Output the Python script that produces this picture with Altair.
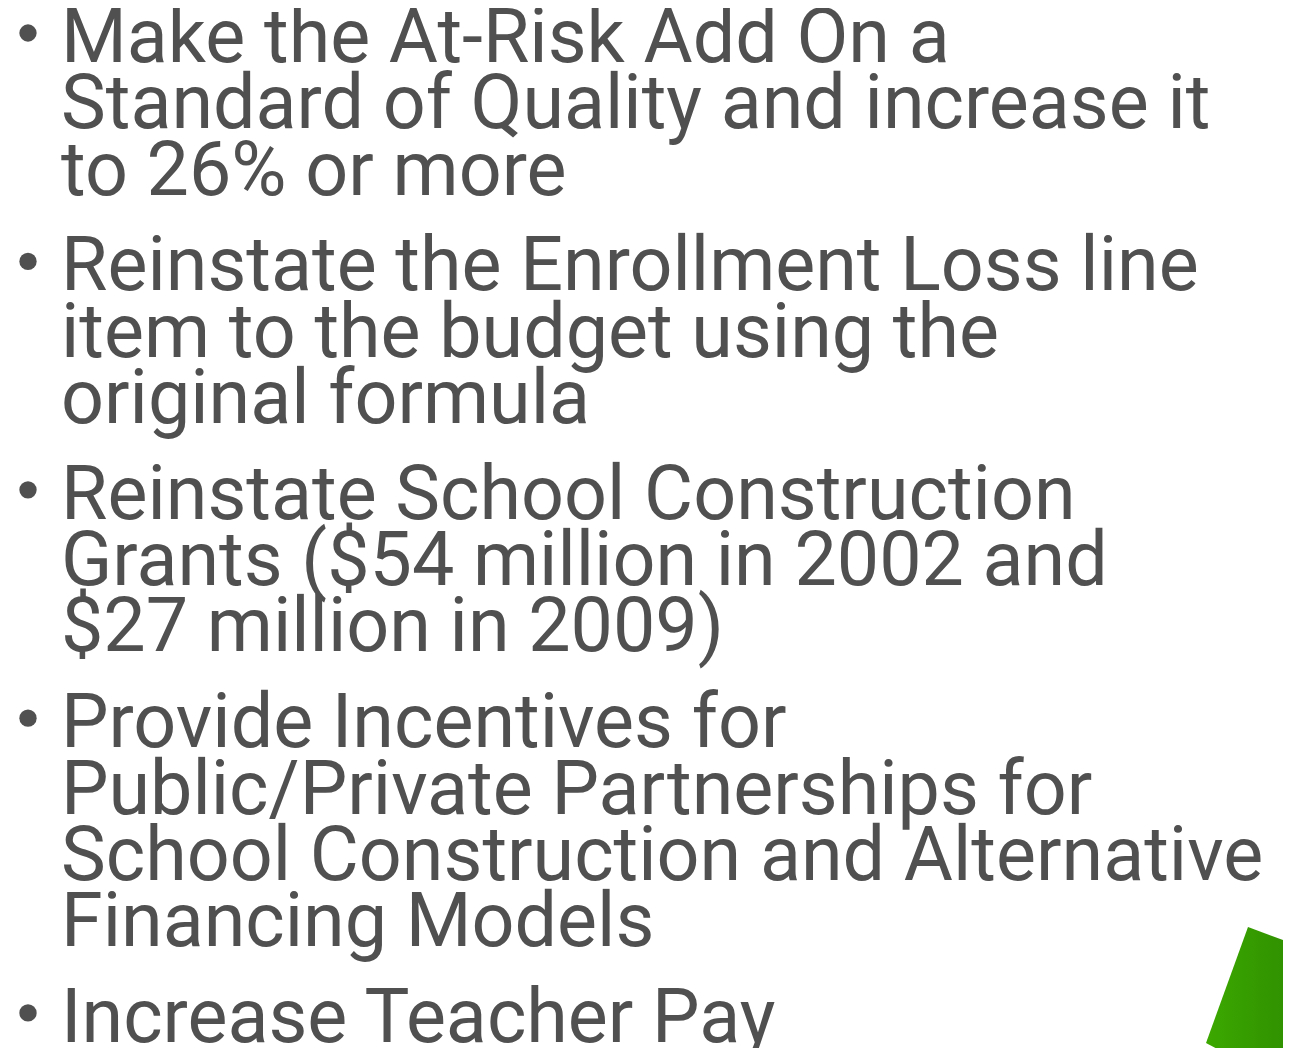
import altair as alt
import pandas as pd

bullets = [
    ["Make the At-Risk Add On a", "Standard of Quality and increase it", "to 26% or more"],
    ["Reinstate the Enrollment Loss line", "item to the budget using the", "original formula"],
    ["Reinstate School Construction", "Grants ($54 million in 2002 and", "$27 million in 2009)"],
    ["Provide Incentives for", "Public/Private Partnerships for",
     "School Construction and Alternative", "Financing Models"],
    ["Increase Teacher Pay"],
]

# decorative green shape (page pixel coords)
shape_x = [1206, 1223, 1248, 1291]
shape_top = [1043, 996, 927, 943]
shape_bot = [1043, 1052, 1052, 1052]

W, H = 1275, 1040
FIRST_BASE, LINE_STEP, GAP = 62, 66.3, 29.5
TEXT_X, BULLET_X = 61, 28

rows, dots = [], []
g = 0
for b, lines in enumerate(bullets):
    for i, t in enumerate(lines):
        y = FIRST_BASE + LINE_STEP * g + GAP * b
        rows.append({"x": TEXT_X, "y": y, "t": t})
        if i == 0:
            dots.append({"x": BULLET_X, "y": y - 29})
        g += 1

xs = alt.Scale(domain=[8, 8 + W], nice=False, zero=False)
ys = alt.Scale(domain=[8, 8 + H], reverse=True, nice=False, zero=False)

text = alt.Chart(pd.DataFrame(rows)).mark_text(
    align="left", baseline="alphabetic", font="Roboto", fontSize=75.4, color="#505050"
).encode(
    x=alt.X("x:Q", scale=xs, axis=None),
    y=alt.Y("y:Q", scale=ys, axis=None),
    text="t:N",
)

dot = alt.Chart(pd.DataFrame(dots)).mark_circle(size=300, color="#505050", opacity=1).encode(
    x=alt.X("x:Q", scale=xs, axis=None),
    y=alt.Y("y:Q", scale=ys, axis=None),
)

shape = alt.Chart(pd.DataFrame({"x": shape_x, "top": shape_top, "bot": shape_bot})).mark_area(
    clip=True,
    color=alt.Gradient(
        gradient="linear",
        stops=[alt.GradientStop(color="#3ca800", offset=0), alt.GradientStop(color="#2f9000", offset=1)],
        x1=0, x2=1, y1=0, y2=0,
    ),
).encode(
    x=alt.X("x:Q", scale=xs, axis=None),
    y=alt.Y("top:Q", scale=ys, axis=None),
    y2="bot:Q",
)

chart = alt.layer(shape, text, dot).properties(
    width=W, height=H, padding=0, autosize=alt.AutoSizeParams(type="none")
).configure_view(stroke=None)

chart.save("out.html", embed_options={"renderer": "svg", "actions": False})
